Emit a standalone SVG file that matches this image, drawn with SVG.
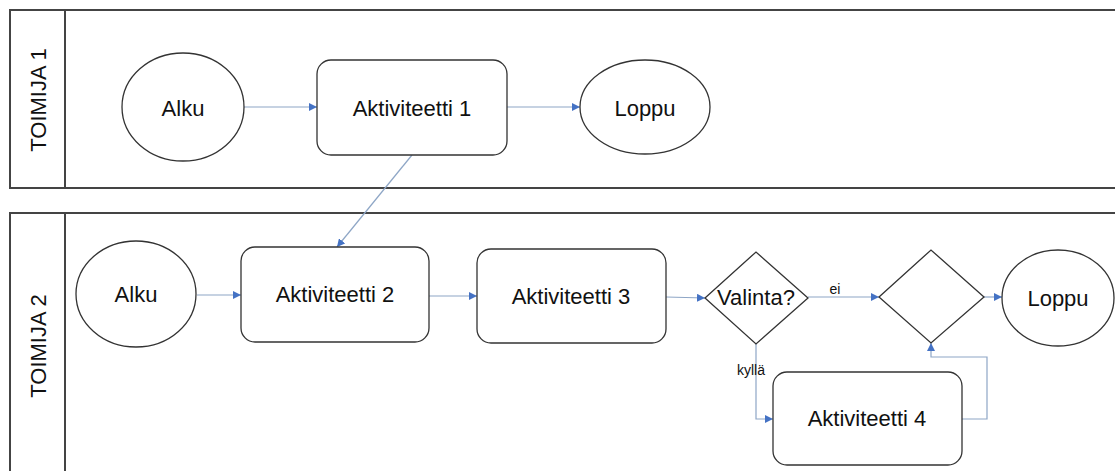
<svg xmlns="http://www.w3.org/2000/svg" width="1115" height="471" viewBox="0 0 1115 471">
<style>
.lane{fill:none;stroke:#444;stroke-width:2}
.shape{fill:#fff;stroke:#333;stroke-width:1.3}
.t{font-family:"Liberation Sans",Arial,sans-serif;font-size:22px;fill:#111;text-anchor:middle}
.s{font-family:"Liberation Sans",Arial,sans-serif;font-size:14px;fill:#111;text-anchor:middle}
.c{fill:none;stroke:#8ea6c6;stroke-width:1.2}
</style>
<defs>
<marker id="ah" viewBox="0 0 10 10" refX="10" refY="5" markerWidth="8" markerHeight="8" markerUnits="userSpaceOnUse" orient="auto">
<path d="M0,0 L10,5 L0,10 z" fill="#4472c4"/>
</marker>
</defs>
<rect width="1115" height="471" fill="#fff"/>
<g id="lane1">
<rect class="lane" x="10" y="10" width="1120" height="178"/>
<line class="lane" x1="65" y1="10" x2="65" y2="188"/>
<text class="t" transform="translate(46,100) rotate(-90)">TOIMIJA 1</text>
</g>
<g id="lane2">
<rect class="lane" x="10" y="213" width="1120" height="280"/>
<line class="lane" x1="65" y1="213" x2="65" y2="480"/>
<text class="t" transform="translate(46,346) rotate(-90)">TOIMIJA 2</text>
</g>
<g id="connectors">
<line class="c" x1="243" y1="107" x2="317" y2="107" marker-end="url(#ah)"/>
<line class="c" x1="507" y1="107" x2="580" y2="107" marker-end="url(#ah)"/>
<line class="c" x1="412" y1="155" x2="337" y2="247" marker-end="url(#ah)"/>
<line class="c" x1="197" y1="295" x2="241" y2="295" marker-end="url(#ah)"/>
<line class="c" x1="429" y1="296" x2="477" y2="296" marker-end="url(#ah)"/>
<line class="c" x1="666" y1="297" x2="705" y2="298" marker-end="url(#ah)"/>
<line class="c" x1="808" y1="297" x2="879" y2="297" marker-end="url(#ah)"/>
<line class="c" x1="984" y1="297" x2="1002" y2="297" marker-end="url(#ah)"/>
<polyline class="c" points="756,344 756,419 773,419" marker-end="url(#ah)"/>
<polyline class="c" points="962,419 987,419 987,357 931,357 931,343" marker-end="url(#ah)"/>
<text class="s" x="835" y="294">ei</text>
<text class="s" x="751" y="375">kyllä</text>
</g>
<g id="alku1">
<ellipse class="shape" cx="183" cy="107" rx="61" ry="54"/>
<text class="t" x="183" y="116">Alku</text>
</g>
<g id="akt1">
<rect class="shape" x="317" y="60" width="190" height="95" rx="14"/>
<text class="t" x="412" y="116">Aktiviteetti 1</text>
</g>
<g id="loppu1">
<ellipse class="shape" cx="645" cy="107" rx="65" ry="47"/>
<text class="t" x="645" y="116">Loppu</text>
</g>
<g id="alku2">
<ellipse class="shape" cx="136" cy="294" rx="60" ry="53"/>
<text class="t" x="136" y="302">Alku</text>
</g>
<g id="akt2">
<rect class="shape" x="241" y="247" width="188" height="95" rx="14"/>
<text class="t" x="335" y="302">Aktiviteetti 2</text>
</g>
<g id="akt3">
<rect class="shape" x="477" y="249" width="189" height="94" rx="14"/>
<text class="t" x="571" y="304">Aktiviteetti 3</text>
</g>
<g id="valinta">
<polygon class="shape" points="705,298 756,252 808,298 756,344"/>
<text class="t" x="756" y="305">Valinta?</text>
</g>
<g id="merge">
<polygon class="shape" points="879,297 931,250 984,297 931,343"/>
</g>
<g id="loppu2">
<ellipse class="shape" cx="1058" cy="298" rx="56" ry="48"/>
<text class="t" x="1058" y="306">Loppu</text>
</g>
<g id="akt4">
<rect class="shape" x="773" y="372" width="189" height="93" rx="14"/>
<text class="t" x="867" y="426">Aktiviteetti 4</text>
</g>
</svg>
